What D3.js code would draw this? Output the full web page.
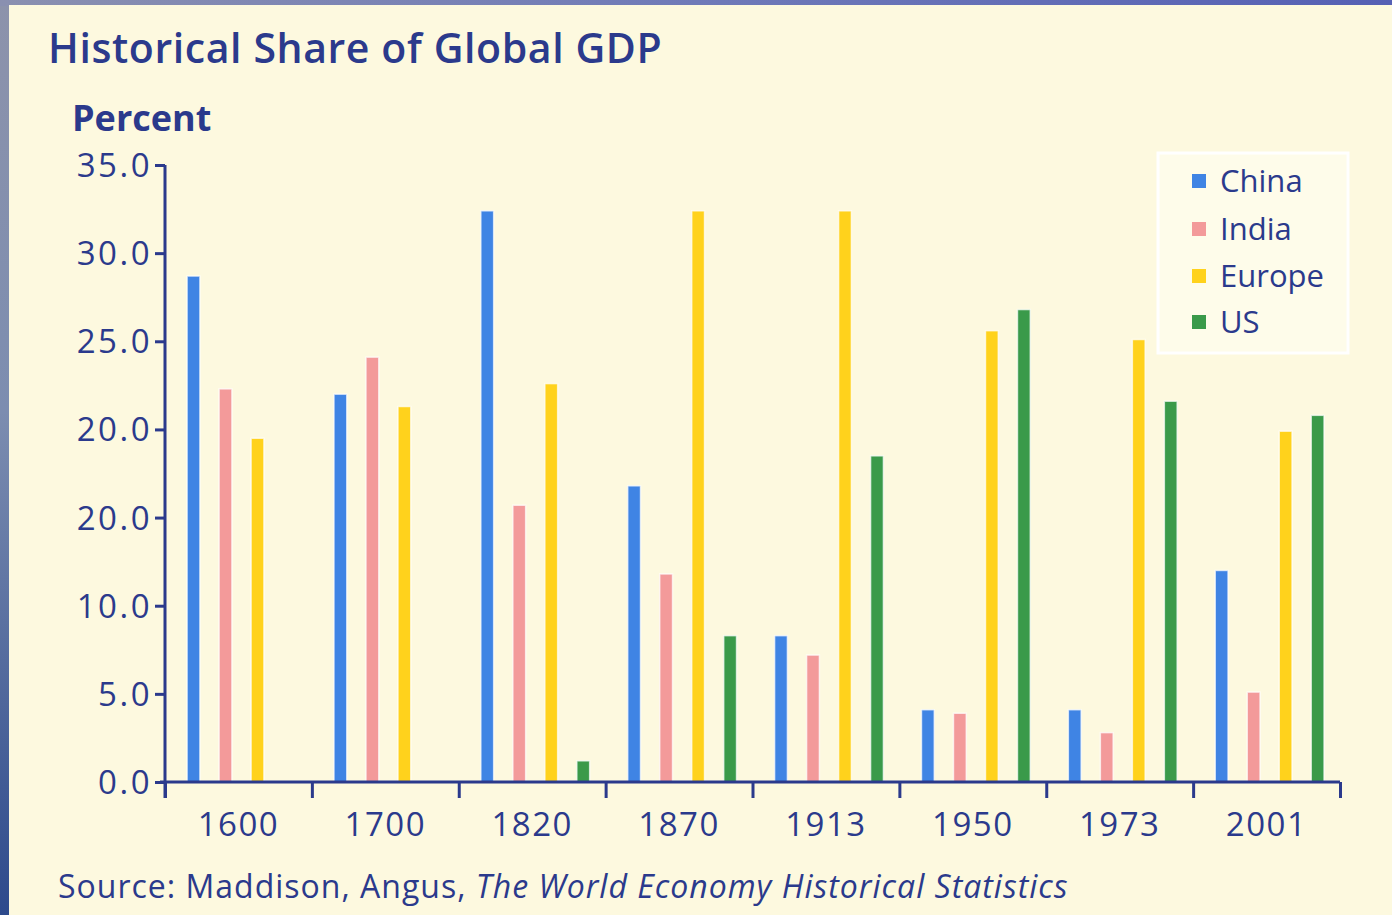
<!DOCTYPE html>
<html>
<head>
<meta charset="utf-8">
<script src="https://cdn.jsdelivr.net/npm/d3@7"></script>
<style>
  html, body { margin: 0; padding: 0; background: #3a5a98; }
  svg { display: block; }
</style>
</head>
<body>
<svg id="chart" width="1392" height="915"></svg>
<script>
const years = ["1600", "1700", "1820", "1870", "1913", "1950", "1973", "2001"];
const seriesNames = ["China", "India", "Europe", "US"];
const china  = [28.7, 22.0, 32.4, 16.8, 8.3, 4.1, 4.1, 12.0];
const india  = [22.3, 24.1, 15.7, 11.8, 7.2, 3.9, 2.8, 5.1];
const europe = [19.5, 21.3, 22.6, 32.4, 32.4, 25.6, 25.1, 19.9];
const us     = [null, null, 1.2, 8.3, 18.5, 26.8, 21.6, 20.8];
const yTickValues = [0, 5, 10, 15, 20, 25, 30, 35];
const yTickLabels = ["0.0", "5.0", "10.0", "20.0", "20.0", "25.0", "30.0", "35.0"];
const colors = ["#3f84e4", "#f39a9a", "#ffd21c", "#3a9a4a"];

const seriesValues = [china, india, europe, us];
const svg = d3.select("#chart");
const W = 1392, H = 915;
const ink = "#2b3a8c";
const font = "'Open Sans', 'DejaVu Sans', sans-serif";

// frame background
const defs = svg.append("defs");
const gTop = defs.append("linearGradient").attr("id", "gtop").attr("x1", 0).attr("x2", 1).attr("y1", 0).attr("y2", 0);
gTop.append("stop").attr("offset", 0).attr("stop-color", "#8a90b0");
gTop.append("stop").attr("offset", 0.5).attr("stop-color", "#6f7ab8");
gTop.append("stop").attr("offset", 1).attr("stop-color", "#5560b4");
const gLeft = defs.append("linearGradient").attr("id", "gleft").attr("x1", 0).attr("x2", 0).attr("y1", 0).attr("y2", 1);
gLeft.append("stop").attr("offset", 0).attr("stop-color", "#8d93ab");
gLeft.append("stop").attr("offset", 0.45).attr("stop-color", "#7c8db0");
gLeft.append("stop").attr("offset", 1).attr("stop-color", "#2d4a8c");
svg.append("rect").attr("x", 0).attr("y", 0).attr("width", W).attr("height", H).attr("fill", "url(#gleft)");
svg.append("rect").attr("x", 0).attr("y", 0).attr("width", W).attr("height", 6).attr("fill", "url(#gtop)");
svg.append("rect").attr("x", 9).attr("y", 5).attr("width", W - 9).attr("height", H - 5).attr("fill", "#fdf9df");

const x0 = d3.scaleBand().domain(years).range([165, 1340]);
const x1 = d3.scaleBand().domain(seriesNames).range([12.5, 140.5]).paddingInner(0.6).paddingOuter(0.3);
const y = d3.scaleLinear().domain([0, 35]).range([782, 165]);

// bars
const groups = svg.append("g").selectAll("g").data(years).join("g")
  .attr("transform", d => `translate(${x0(d)},0)`);
groups.selectAll("rect")
  .data((d, i) => seriesNames.map((s, k) => ({ s, k, v: seriesValues[k][i] })).filter(o => o.v != null))
  .join("rect")
  .attr("x", o => x1(o.s))
  .attr("width", x1.bandwidth())
  .attr("y", o => y(o.v))
  .attr("height", o => y(0) - y(o.v))
  .attr("fill", o => colors[o.k])
  .attr("stroke", "rgba(255,255,255,0.7)")
  .attr("stroke-width", 1.5);

// y axis
const yAxis = d3.axisLeft(y).tickValues(yTickValues).tickFormat((d, i) => yTickLabels[i]).tickSize(10).tickPadding(3);
const gy = svg.append("g").attr("transform", "translate(165,0)").call(yAxis);
gy.select(".domain").attr("d", `M0,${y(35)}V798`);
gy.selectAll("path, line").attr("stroke", ink).attr("stroke-width", 3);
gy.selectAll("text").attr("fill", ink).attr("font-family", font).attr("font-size", 33)
  .attr("letter-spacing", 2.5).attr("dy", "0.35em");

// x axis boundary ticks
const xb = d3.scaleLinear().domain([0, years.length]).range([165, 1340]);
const gx = svg.append("g").attr("transform", `translate(0,${y(0)})`)
  .call(d3.axisBottom(xb).tickValues(d3.range(years.length + 1)).tickFormat("").tickSize(16).tickSizeOuter(0));
gx.select(".domain").attr("d", "M160,0H1340");
gx.selectAll("path, line").attr("stroke", ink).attr("stroke-width", 3);

// x labels
const gxl = svg.append("g").attr("transform", `translate(0,${y(0)})`)
  .call(d3.axisBottom(x0).tickSize(0).tickPadding(31));
gxl.select(".domain").remove();
gxl.selectAll("text").attr("fill", ink).attr("font-family", font).attr("font-size", 33)
  .attr("letter-spacing", 1.5);

// title
svg.append("text").attr("x", 48).attr("y", 63).attr("fill", ink)
  .attr("font-family", font).attr("font-weight", 600).attr("font-size", 41)
  .attr("letter-spacing", 0.6)
  .text("Historical Share of Global GDP");
svg.append("text").attr("x", 72).attr("y", 131).attr("fill", ink)
  .attr("font-family", font).attr("font-weight", 700).attr("font-size", 36)
  .text("Percent");

// legend
const lg = svg.append("g");
lg.append("rect").attr("x", 1158).attr("y", 153).attr("width", 190).attr("height", 200)
  .attr("fill", "#fefcea").attr("stroke", "#ffffff").attr("stroke-width", 3);
const legendY = [181, 229, 276, 322];
seriesNames.forEach((s, k) => {
  lg.append("rect").attr("x", 1192).attr("y", legendY[k] - 7).attr("width", 14).attr("height", 14).attr("fill", colors[k]);
  lg.append("text").attr("x", 1220).attr("y", legendY[k]).attr("dy", "0.35em").attr("fill", ink)
    .attr("font-family", font).attr("font-size", 31).text(s);
});

// source
const src = svg.append("text").attr("x", 58).attr("y", 898).attr("fill", ink)
  .attr("font-family", font).attr("font-size", 32).attr("letter-spacing", 1.0);
src.append("tspan").text("Source: Maddison, Angus, ");
src.append("tspan").attr("font-style", "italic").text("The World Economy Historical Statistics");
</script>
</body>
</html>
